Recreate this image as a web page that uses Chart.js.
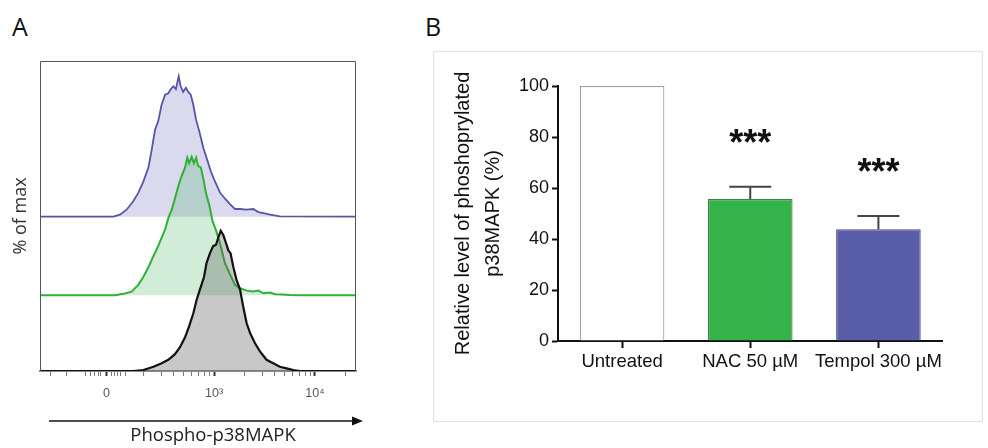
<!DOCTYPE html>
<html><head><meta charset="utf-8">
<script src="https://cdn.jsdelivr.net/npm/chart.js@4.4.1/dist/chart.umd.min.js"></script>
<style>
html,body{margin:0;padding:0;background:#fff;}
body{width:988px;height:448px;position:relative;overflow:hidden;font-family:'Open Sans',sans-serif;}
.abs{position:absolute;}
#wa{left:0;top:0;width:430px;height:448px;}
#wb{left:430px;top:0;width:558px;height:448px;}
#boxB{left:433px;top:51px;width:550px;height:371px;border:1px solid #e2e2e2;box-sizing:border-box;}
.lab{font-size:25px;line-height:25px;color:#111;}
#xtitle{left:103px;top:424px;width:220px;text-align:center;font-size:18.5px;line-height:20px;color:#222;white-space:nowrap;}
</style></head><body>
<div id="boxB" class="abs"></div>
<div class="abs lab" style="left:12px;top:14px;">A</div>
<div class="abs lab" style="left:425px;top:14px;">B</div>
<div class="abs" id="wa"><canvas id="ca" width="430" height="448"></canvas></div>
<div class="abs" id="wb"><canvas id="cb" width="558" height="448"></canvas></div>
<div class="abs" id="xtitle">Phospho-p38MAPK</div>
<script>
// ---------- Panel A: flow histograms (x in display units 0..100, y in % of max) ----------
const blueX  = [23.2,25.3,27.4,29.5,31.1,32.7,34.3,35.3,36.4,37.4,38.5,39.6,40.6,41.4,42.2,43.0,43.9,44.5,45.3,46.2,46.9,47.7,48.5,49.4,50.4,51.7,52.7,54.1,55.4,57.0,58.5,60.1,61.7,63.3,65.4,67.5,69.1,70.7,72.8,75.9];
const blueY  = [0,1.4,5,11,17,25,35,47,62,68,80,87,88,91,93,91,100,93,89,92,89,87,80,69,61,49,42,32,25,17,13,9,5.5,5.5,5,5.5,3.3,2.6,1.4,0.2];
const greenX = [23.7,26.4,29.0,31.1,32.7,34.3,35.9,37.4,38.5,39.6,40.6,41.7,42.7,43.8,44.8,45.9,46.6,47.2,48.0,48.7,49.4,50.1,50.9,51.7,52.5,53.6,54.6,55.9,57.2,58.5,60.1,61.7,63.3,65.4,67.5,69.1,70.7,72.8,74.4,76.5,79.1,82.3];
const greenY = [0,1,2.6,7.4,13,20,28,35,41,47,55,61,69,78,85,91,98,94,98.6,94,98,92,91,83,73,64,53,45,35,23,15,7.4,5,3.3,2.6,3.3,1.4,1.9,0.7,0.5,0.2,0];
const blackX = [29.5,32.7,35.9,38.5,40.6,42.7,44.3,45.9,47.2,48.5,49.6,50.6,51.9,52.7,53.8,54.8,55.7,56.4,57.2,58.0,58.9,59.6,60.3,61.2,62.2,63.3,64.3,65.4,66.5,68.0,69.6,71.7,73.8,75.9,78.0,80.2,82.3];
const blackY = [0,0.7,3,5.5,8,12,17,24,32,41,51,58,67,77,84,89,90,95,100,97,91,86,84,74,65,58,46,34,27,20,14,8,5.5,3,1.9,0.7,0];
const offsets = {black:0, green:54, blue:110};
const xTickPositions = [3.2,8.5,14.5,16,17.3,18.4,19.3,21,22.7,23.6,24.6,25.6,27,32.8,38.4,42.4,45.5,48.0,50.2,52.0,53.6,55.1,64.7,70.3,74.3,77.4,79.9,82.1,83.9,85.5,87.0,96.6];
const xTickLabels = {21:'0', 55.1:'10\u00B3', 87.0:'10\u2074'};

function series(xs, ys, off){
  return [{x:0,y:off}].concat(xs.map((x,i)=>({x:x,y:off+ys[i]}))).concat([{x:100,y:off}]);
}
const frameAndArrow = {
  id:'frameAndArrow',
  afterDraw(chart){
    const {ctx, chartArea:a} = chart;
    ctx.save();
    ctx.strokeStyle='#555'; ctx.lineWidth=1;
    ctx.beginPath();
    ctx.moveTo(a.left+0.5,a.bottom); ctx.lineTo(a.left+0.5,a.top+0.5);
    ctx.lineTo(a.right-0.5,a.top+0.5); ctx.lineTo(a.right-0.5,a.bottom);
    ctx.stroke();
    // axis direction arrow
    ctx.strokeStyle='#111'; ctx.fillStyle='#111'; ctx.lineWidth=1.3;
    ctx.beginPath(); ctx.moveTo(49,421); ctx.lineTo(354,421); ctx.stroke();
    ctx.beginPath(); ctx.moveTo(352,416.5); ctx.lineTo(363,421); ctx.lineTo(352,425.5); ctx.closePath(); ctx.fill();
    ctx.restore();
  }
};
new Chart(document.getElementById('ca'), {
  type:'line',
  data:{datasets:[
    {data:series(blackX,blackY,offsets.black), borderColor:'#111', backgroundColor:'rgba(95,95,95,0.34)', borderWidth:2.2, fill:{value:offsets.black}},
    {data:series(greenX,greenY,offsets.green), borderColor:'#2eb135', backgroundColor:'rgba(45,175,75,0.22)', borderWidth:2, fill:{value:offsets.green}},
    {data:series(blueX,blueY,offsets.blue), borderColor:'#5656a8', backgroundColor:'rgba(105,95,185,0.24)', borderWidth:1.8, fill:{value:offsets.blue}}
  ]},
  options:{
    responsive:false, animation:false,
    elements:{point:{radius:0}, line:{tension:0}},
    layout:{padding:{top:61,right:74,left:0,bottom:0}},
    plugins:{legend:{display:false}, tooltip:{enabled:false}},
    scales:{
      x:{type:'linear', min:0, max:100,
        afterBuildTicks:s=>{s.ticks = xTickPositions.map(v=>({value:v}));},
        afterFit:s=>{s.height=77;},
        grid:{display:true, drawOnChartArea:false, drawTicks:true, tickLength:5,
          tickWidth:c=>(xTickLabels[c.tick && c.tick.value]!==undefined?2:1),
          tickColor:c=>(xTickLabels[c.tick && c.tick.value]!==undefined?'#333':'#777')},
        border:{display:true,color:'#8a8a8a',width:2},
        ticks:{autoSkip:false, maxRotation:0, padding:10, color:'#555',
          font:{family:'"Liberation Sans", Arial, sans-serif', size:12.5},
          callback:v=>(xTickLabels[v]!==undefined?xTickLabels[v]:'')}
      },
      y:{type:'linear', min:0, max:221,
        afterFit:s=>{s.width=40;},
        grid:{display:false, drawTicks:false}, border:{display:false},
        ticks:{display:false},
        title:{display:true, text:'% of max', color:'#333', font:{family:'"Open Sans", sans-serif', size:18, lineHeight:1.2}, padding:{top:9.7,bottom:0}}
      }
    }
  },
  plugins:[frameAndArrow]
});

// ---------- Panel B: bar chart ----------
const categories = ['Untreated','NAC 50 \u00B5M','Tempol 300 \u00B5M'];
const means = [100, 55.7, 43.8];
const sems  = [0, 4.8, 5.2];
const significance = ['', '***', '***'];
const yTicksB = [0,20,40,60,80,100];

const errAndStars = {
  id:'errAndStars',
  afterDatasetsDraw(chart){
    const {ctx} = chart, xs = chart.scales.x, ys = chart.scales.y;
    ctx.save();
    means.forEach((m,i)=>{
      const x = xs.getPixelForValue(i);
      const top = ys.getPixelForValue(m+sems[i]);
      if (sems[i]>0){
        ctx.strokeStyle='#444'; ctx.lineWidth=2;
        ctx.beginPath();
        ctx.moveTo(x, ys.getPixelForValue(m)); ctx.lineTo(x, top);
        ctx.moveTo(x-21, top); ctx.lineTo(x+21, top);
        ctx.stroke();
      }
      if (significance[i]){
        ctx.fillStyle='#111'; ctx.textAlign='center'; ctx.textBaseline='alphabetic';
        ctx.font='bold 36px "Liberation Sans", Arial, sans-serif';
        ctx.fillText(significance[i], x, top-32);
      }
    });
    ctx.restore();
  }
};
const fontB = '"Liberation Sans", Arial, sans-serif';
new Chart(document.getElementById('cb'), {
  type:'bar',
  data:{labels:categories, datasets:[{
    data:means,
    backgroundColor:['#ffffff','#33b34a','#5a5ea8'],
    borderColor:['#a0a0a0','#3f7f48','#454a86'],
    borderWidth:1.2, barPercentage:0.66, categoryPercentage:1
  }]},
  options:{
    responsive:false, animation:false,
    layout:{padding:{top:86,right:45.5,left:0,bottom:0}},
    plugins:{legend:{display:false}, tooltip:{enabled:false}},
    scales:{
      x:{z:1, afterFit:s=>{s.height=107;},
        grid:{display:true, drawOnChartArea:false, offset:false, tickLength:7, tickWidth:2, tickColor:'#111'},
        border:{display:true,color:'#111',width:2},
        ticks:{padding:3, color:'#111', autoSkip:false, maxRotation:0, font:{family:fontB, size:18.5}}
      },
      y:{z:1, min:0, max:100,
        afterBuildTicks:s=>{s.ticks = yTicksB.map(v=>({value:v}));},
        afterFit:s=>{s.width=128;},
        grid:{display:true, drawOnChartArea:false, tickLength:6, tickWidth:2, tickColor:'#111'},
        border:{display:true,color:'#111',width:2},
        ticks:{padding:3, color:'#111', font:{family:fontB, size:18}},
        title:{display:true, text:['Relative level of phoshoprylated','p38MAPK (%)'], color:'#111',
          font:{family:fontB, size:20, lineHeight:1.5}, padding:{top:18.8,bottom:0}}
      }
    }
  },
  plugins:[errAndStars]
});
</script>
</body></html>
